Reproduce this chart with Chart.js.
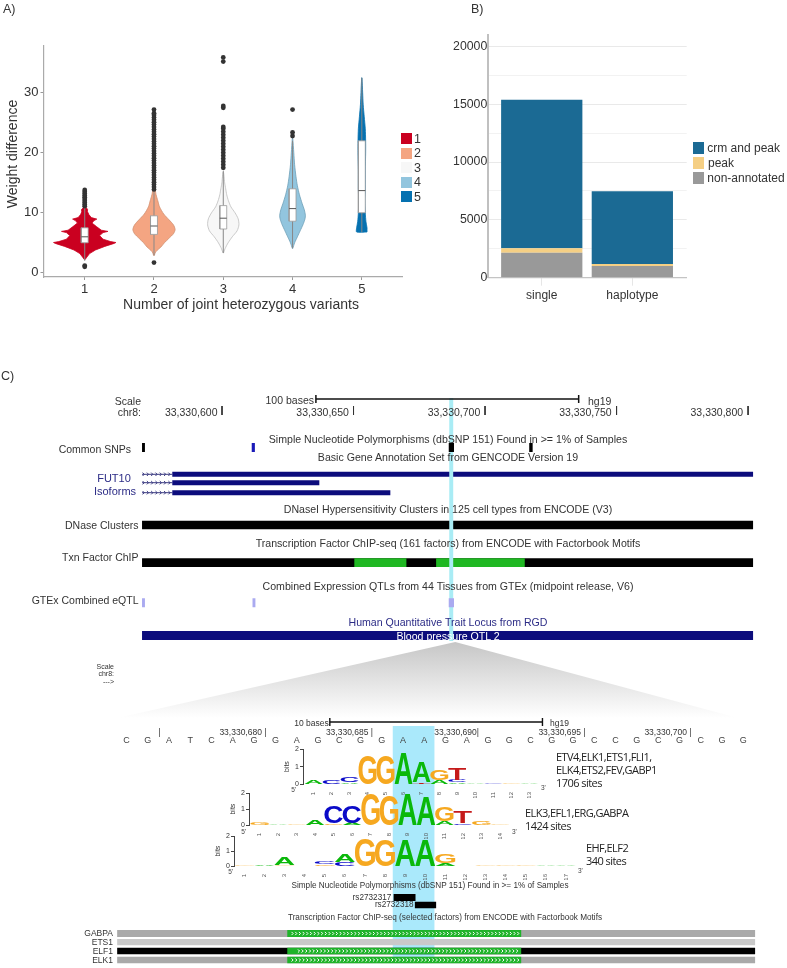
<!DOCTYPE html>
<html>
<head>
<meta charset="utf-8">
<title>Joint heterozygous variants</title>
<script src="https://cdn.jsdelivr.net/npm/chart.js@4"></script>
<style>
body { margin: 0; background: #fff; }
#page { position: relative; width: 787px; height: 968px; overflow: hidden; font-family: "Liberation Sans", sans-serif; }
#page canvas { position: absolute; }
.lbl { position: absolute; white-space: nowrap; line-height: 1; }
.swatch { position: absolute; }
</style>
</head>
<body>
<div id="page"></div>
<script>
// ---- panel A data: violin outlines (value, half width in category units)
const violinCategories = [1, 2, 3, 4, 5];
const violinColors = ['#ca0020', '#f4a582', '#f7f7f7', '#92c5de', '#0571b0'];
const violinEdges = ['#ca0020', '#cf8f70', '#bdbdbd', '#6f9fb8', '#0571b0'];
const violinValues = [
    [2.2, 2.6, 3.2, 3.8, 4.4, 4.9, 5.05, 5.2, 5.6, 6.2, 6.7, 6.9, 7.1, 7.7, 8.3, 8.7, 8.95, 9.2, 9.7, 10.2, 10.6, 11],
    [2.9, 3.5, 4.3, 5, 5.8, 6.5, 7.2, 8, 8.8, 9.8, 11, 12, 13, 13.8],
    [3.3, 4, 5, 6, 7, 8, 9, 10, 11, 12, 13, 14, 15, 16, 16.8],
    [4.05, 5, 6, 7, 8, 9, 9.6, 10.5, 11.5, 13, 14.5, 16, 18, 20, 22.4],
    [6.8, 7.5, 8.5, 10, 12, 14, 17, 20, 22, 24, 26, 28, 30, 32.5]
];
const violinWidths = [
    [.005, .03, .07, .155, .29, .425, .45, .375, .265, .215, .265, .335, .24, .17, .105, .135, .175, .095, .06, .04, .04, .01],
    [.005, .025, .1, .15, .22, .28, .305, .28, .22, .14, .08, .055, .03, .015],
    [.003, .025, .07, .13, .2, .226, .215, .17, .11, .075, .05, .035, .02, .012, .003],
    [.003, .03, .07, .11, .15, .18, .185, .17, .14, .1, .07, .05, .03, .018, .003],
    [.075, .075, .06, .05, .045, .05, .05, .055, .055, .05, .035, .02, .012, .002]
];
const boxQ1 = [5.0, 6.4, 7.3, 8.6, 10];
const boxMedian = [6.0, 7.8, 9.1, 10.7, 13.7];
const boxQ3 = [7.5, 9.5, 11.2, 14, 22];
const whiskerLow = [2.0, 2.9, 3.3, 4.1, 6.8];
const whiskerHigh = [11, 13.8, 17, 22, 32.5];
const outliers = [
    [1.0, 1.2, 11.1, 11.4, 11.7, 12, 12.3, 12.6, 12.9, 13.2, 13.5, 13.8],
    [1.7, 13.9, 14.3, 14.7, 15.1, 15.5, 15.9, 16.3, 16.7, 17.1, 17.5, 17.9, 18.3, 18.7, 19.1, 19.5, 19.9, 20.3, 20.7, 21.1, 21.5, 21.9, 22.3, 22.7, 23.1, 23.5, 23.9, 24.3, 24.7, 25.1, 25.5, 25.9, 26.3, 26.6, 27.2],
    [17.5, 18, 18.5, 19, 19.5, 20, 20.5, 21, 21.5, 22, 22.5, 23, 23.5, 24, 24.3, 27.5, 27.8, 35.2, 35.9],
    [22.8, 23.4, 27.2],
    []
];
const violinYTicks = [0, 10, 20, 30];

// ---- panel B data
const barCategories = ['single', 'haplotype'];
const nonAnnotated = [2160, 1010];
const peakOnly = [376, 170];
const crmAndPeak = [12854, 6284];
const barYTicks = [0, 2500, 5000, 7500, 10000, 12500, 15000, 17500, 20000];

// ---- panel C upper browser view, positions are offsets from 33,330,000
const upperTicks = [600, 650, 700, 750, 800];
const upperTickLabels = ['33,330,600', '33,330,650', '33,330,700', '33,330,750', '33,330,800'];
const snpStarts = [569.6, 611.3, 686.2, 716.8];
const snpEnds = [570.7, 612.5, 688.2, 718.1];
const geneIsoStarts = [581.1, 581.1, 581.1];
const geneIsoEnds = [801.9, 637, 664];
const dnaseSpan = [569.6, 801.9];
const tfSpan = [569.6, 801.9];
const tfMotifStarts = [650.3, 681.4];
const tfMotifEnds = [670.1, 715.1];
const eqtlStarts = [569.6, 611.6, 686.2];
const eqtlEnds = [570.7, 612.7, 688.2];
const qtlSpan = [569.6, 801.9];

// ---- panel C zoomed view
const zoomBases = ['C','G','A','T','C','A','G','G','A','G','C','G','G','A','A','G','A','G','G','C','G','G','C','C','G','C','G','C','G','G'];
const zoomSpan = [673, 703];
const chipFactors = ['GABPA', 'ETS1', 'ELF1', 'ELK1'];
const chipColors = ['#a9a9a9', '#c9c9c9', '#000000', '#a9a9a9'];
const chipMotif = [681, 692];
const rsNames = ['rs2732317', 'rs2732318'];
const rsStarts = [686, 687];
const rsEnds = [687.03, 688];

// ---- sequence logos: position, letter and height in bits, stacked bottom-up
const logo1Pos = [1, 2, 3, 3, 4, 5, 6, 7, 7, 8, 8, 9, 9, 9, 10, 11, 12, 13];
const logo1Chars = ['A','C','A','C','G','G','A','T','A','A','G','A','C','T','A','C','G','A'];
const logo1Bits = [.22, .25, .1, .33, 1.63, 1.65, 1.78, .1, 1.15, .24, .58, .1, .15, .66, .03, .03, .08, .06];
const logo2Pos = [1, 2, 3, 4, 5, 5, 6, 6, 7, 8, 9, 10, 11, 11, 12, 12, 13, 14];
const logo2Chars = ['G','A','G','A','G','C','A','C','G','G','A','A','A','G','C','T','G','G'];
const logo2Bits = [.12, .04, .05, .35, .1, 1.06, .13, 1.1, 1.94, 1.9, 1.92, 1.75, .24, .9, .1, .73, .28, .05];
const logo3Pos = [1, 2, 3, 3, 4, 5, 5, 6, 6, 7, 8, 9, 10, 11, 11, 12, 13, 14, 15, 16, 17];
const logo3Chars = ['G','A','G','A','T','G','C','C','A','G','G','A','A','A','G','C','G','G','G','A','A'];
const logo3Bits = [.05, .1, .08, .5, .02, .1, .15, .25, .55, 1.85, 1.75, 1.7, 1.7, .2, .64, .03, .08, .08, .05, .05, .07];
const logoColors = { A: '#0ab80a', C: '#0a0ac8', G: '#f6a820', T: '#c51a1a' };

Chart.defaults.font.family = '"Liberation Sans", sans-serif';
Chart.defaults.color = '#333';

const page = document.getElementById('page');

function addCanvas(left, top, width, height) {
    const c = document.createElement('canvas');
    c.width = width;
    c.height = height;
    c.style.left = left + 'px';
    c.style.top = top + 'px';
    page.appendChild(c);
    return c;
}

function addLabel(text, x, y, align, size, color, extra) {
    const d = document.createElement('div');
    d.className = 'lbl';
    d.textContent = text;
    d.style.left = x + 'px';
    d.style.top = y + 'px';
    d.style.fontSize = size + 'px';
    d.style.color = color || '#333';
    const tx = align === 'right' ? '-100%' : align === 'center' ? '-50%' : '0';
    d.style.transform = 'translate(' + tx + ',-50%)';
    if (extra) Object.assign(d.style, extra);
    page.appendChild(d);
}

function addSwatch(x, y, w, h, color) {
    const d = document.createElement('div');
    d.className = 'swatch';
    d.style.cssText = 'left:' + x + 'px;top:' + y + 'px;width:' + w + 'px;height:' + h + 'px;background:' + color;
    page.appendChild(d);
}

// closed polygon, filled by the library through its scales
function polygon(points, color, borderColor, borderWidth, tension) {
    return {
        data: points,
        showLine: true,
        fill: 'shape',
        backgroundColor: color,
        borderColor: borderColor || color,
        borderWidth: borderWidth || 0,
        pointRadius: 0,
        tension: tension || 0
    };
}

function rect(x0, x1, y0, y1, color) {
    return polygon([{x: x0, y: y0}, {x: x1, y: y0}, {x: x1, y: y1}, {x: x0, y: y1}, {x: x0, y: y0}], color);
}

function segment(x0, y0, x1, y1, color, width) {
    return {
        data: [{x: x0, y: y0}, {x: x1, y: y1}],
        showLine: true,
        borderColor: color,
        borderWidth: width,
        pointRadius: 0
    };
}

// ---------------- panel A
const violinSets = [];
violinCategories.forEach(function(cat, i) {
    const right = violinValues[i].map((v, j) => ({x: cat + violinWidths[i][j], y: v}));
    const left = violinValues[i].map((v, j) => ({x: cat - violinWidths[i][j], y: v})).reverse();
    const outline = right.concat(left);
    outline.push(outline[0]);
    violinSets.push(polygon(outline, violinColors[i], violinEdges[i], 0.8, i === 0 ? 0 : 0.25));
    violinSets.push(segment(cat, whiskerLow[i], cat, whiskerHigh[i], '#888', 1));
    const hw = 0.05;
    violinSets.push(polygon([{x: cat - hw, y: boxQ1[i]}, {x: cat + hw, y: boxQ1[i]}, {x: cat + hw, y: boxQ3[i]}, {x: cat - hw, y: boxQ3[i]}, {x: cat - hw, y: boxQ1[i]}], '#fff', '#999', 0.8));
    violinSets.push(segment(cat - hw, boxMedian[i], cat + hw, boxMedian[i], '#555', 1));
    violinSets.push({
        data: outliers[i].map(v => ({x: cat, y: v})),
        backgroundColor: '#333',
        borderWidth: 0,
        pointRadius: 2.4
    });
});

// the first dataset is painted last, so every list is handed over reversed
new Chart(addCanvas(0, 0, 430, 320), {
    type: 'scatter',
    data: { datasets: violinSets.reverse() },
    options: {
        responsive: false,
        animation: false,
        layout: { padding: { top: 46, right: 28, left: 0, bottom: 0 } },
        plugins: { legend: { display: false }, tooltip: { enabled: false } },
        scales: {
            x: {
                type: 'linear', min: 0.405, max: 5.58,
                afterBuildTicks: s => { s.ticks = violinCategories.map(v => ({value: v})); },
                afterFit: s => { s.height = 43; },
                grid: { drawOnChartArea: false, tickLength: 3, color: '#999' },
                border: { color: '#aaa', width: 1.2 },
                ticks: { font: { size: 13 }, color: '#333', padding: 2, maxRotation: 0 }
            },
            y: {
                min: -0.7, max: 37.8,
                afterBuildTicks: s => { s.ticks = violinYTicks.map(v => ({value: v})); },
                afterFit: s => { s.width = 43.5; },
                grid: { drawOnChartArea: false, tickLength: 3, color: '#999' },
                border: { color: '#aaa', width: 1.2 },
                ticks: { font: { size: 13 }, color: '#333', padding: 2 }
            }
        }
    }
});

addLabel('Number of joint heterozygous variants', 241, 304, 'center', 14, '#333');
addLabel('Weight difference', 12, 154, 'left', 14, '#333', { transformOrigin: '0 0', transform: 'rotate(-90deg) translate(-50%,-50%)' });

violinCategories.forEach(function(cat, i) {
    const y = 133 + i * 14.6;
    addSwatch(401, y, 11, 11, violinColors[i]);
    addLabel(String(cat), 414, y + 5.5, 'left', 12.5, '#333');
});

// ---------------- panel B
new Chart(addCanvas(430, 0, 357, 320), {
    type: 'bar',
    data: {
        datasets: [
            { label: 'non-annotated', data: nonAnnotated.map((v, i) => ({x: i + 1, y: v})), backgroundColor: '#999999' },
            { label: 'peak', data: peakOnly.map((v, i) => ({x: i + 1, y: v})), backgroundColor: '#f5cf84' },
            { label: 'crm and peak', data: crmAndPeak.map((v, i) => ({x: i + 1, y: v})), backgroundColor: '#1b6a94' }
        ]
    },
    options: {
        responsive: false,
        animation: false,
        barPercentage: 0.897,
        categoryPercentage: 1,
        layout: { padding: { top: 35, right: 100.3, left: 0, bottom: 0 } },
        plugins: { legend: { display: false }, tooltip: { enabled: false } },
        scales: {
            x: {
                type: 'linear', stacked: true, offset: false, min: 0.41, max: 2.6,
                afterBuildTicks: s => { s.ticks = barCategories.map((c, i) => ({value: i + 1})); },
                afterFit: s => { s.height = 42.3; },
                grid: { drawOnChartArea: false, offset: false, tickLength: 8, color: '#e6e6e6' },
                border: { color: '#c4c4c4', width: 1.2 },
                ticks: { font: { size: 12 }, color: '#333', padding: 3, maxRotation: 0, callback: v => barCategories[v - 1] }
            },
            y: {
                stacked: true, min: 0, max: 20977,
                afterBuildTicks: s => { s.ticks = barYTicks.map(v => ({value: v})); },
                afterFit: s => { s.width = 58.3; },
                ticks: { autoSkip: false, font: { size: 12.3 }, color: '#333', padding: 1, callback: v => (v % 5000 === 0 ? String(v) : '') },
                grid: {
                    drawTicks: false,
                    color: c => (c.tick && c.tick.value % 5000 === 0 ? '#e9e9e9' : '#f2f2f2'),
                    lineWidth: 1
                },
                border: { color: '#c0c0c0', width: 2 }
            }
        }
    }
});

addSwatch(693, 142.3, 11.3, 11.3, '#1b6a94');
addSwatch(693, 157.3, 11.3, 11.3, '#f5cf84');
addSwatch(693, 172.3, 11.3, 11.3, '#999999');
addLabel('crm and peak', 707.3, 148, 'left', 12, '#333');
addLabel('peak', 708, 163, 'left', 12, '#333');
addLabel('non-annotated', 707.3, 178, 'left', 12, '#333');

addLabel('A)', 3, 9, 'left', 12.5);
addLabel('B)', 471, 9, 'left', 12.5);
addLabel('C)', 1, 376, 'left', 12.5);

// ---------------- chevrons inside features, drawn along the x scale
function chevronPlugin(runs) {
    return {
        id: 'chevrons',
        afterDatasetsDraw(chart) {
            const ctx = chart.ctx;
            const sx = chart.scales.x;
            const sy = chart.scales.y;
            ctx.save();
            runs.forEach(function(r) {
                const x0 = sx.getPixelForValue(r.from);
                const x1 = sx.getPixelForValue(r.to);
                const y = sy.getPixelForValue(r.y);
                ctx.strokeStyle = r.color;
                ctx.lineWidth = r.lineWidth;
                for (let x = x0; x < x1; x += r.step) {
                    ctx.beginPath();
                    ctx.moveTo(x, y - r.size);
                    ctx.lineTo(x + r.size, y);
                    ctx.lineTo(x, y + r.size);
                    ctx.stroke();
                }
            });
            ctx.restore();
        }
    };
}

// ---------------- panel C zoomed view (drawn first, the funnel sits under the upper view)
const zoomCanvas = addCanvas(0, 640, 787, 328);
const zoomGrad = zoomCanvas.getContext('2d').createLinearGradient(0, 2, 0, 78);
zoomGrad.addColorStop(0, '#c6c6c6');
zoomGrad.addColorStop(1, '#ffffff');

const chipRows = [[930, 937], [939, 945.3], [947.7, 954.3], [956.7, 963.3]];
const zoomSets = [];
zoomSets.push(polygon([{x: 688.9, y: 642}, {x: 702.2, y: 718}, {x: 673, y: 718}, {x: 688.9, y: 642}], zoomGrad));
zoomSets.push(rect(685.96, 687.92, 726, 958, '#aae9fb'));
zoomSets.push(segment(683, 722, 693, 722, '#111', 1.6));
zoomSets.push(segment(683, 718, 683, 726, '#111', 1.4));
zoomSets.push(segment(693, 718, 693, 726, '#111', 1.4));
zoomSets.push(rect(rsStarts[0], rsEnds[0], 894, 901, '#000'));
zoomSets.push(rect(rsStarts[1], rsEnds[1], 901.7, 908.3, '#000'));
chipFactors.forEach(function(f, i) {
    zoomSets.push(rect(zoomSpan[0], zoomSpan[1], chipRows[i][0], chipRows[i][1], chipColors[i]));
    if (f !== 'ETS1') zoomSets.push(rect(chipMotif[0], chipMotif[1], chipRows[i][0], chipRows[i][1], '#1fb32a'));
});

const basesPlugin = {
    id: 'bases',
    afterDatasetsDraw(chart) {
        const ctx = chart.ctx;
        ctx.save();
        ctx.font = '9px "Liberation Sans"';
        ctx.fillStyle = '#444';
        ctx.textAlign = 'center';
        ctx.textBaseline = 'middle';
        zoomBases.forEach(function(b, i) {
            ctx.fillText(b, chart.scales.x.getPixelForValue(673.44 + i), chart.scales.y.getPixelForValue(741));
        });
        ctx.restore();
    }
};

new Chart(zoomCanvas, {
    type: 'scatter',
    data: { datasets: zoomSets.reverse() },
    options: {
        responsive: false,
        animation: false,
        plugins: { legend: { display: false }, tooltip: { enabled: false } },
        scales: {
            x: { type: 'linear', display: false, min: 667.49, max: 704.5 },
            y: { display: false, reverse: true, min: 640, max: 968 }
        }
    },
    plugins: [basesPlugin, chevronPlugin([
        { from: 681.2, to: 691.9, y: 933.5, step: 3.7, size: 1.6, color: '#fff', lineWidth: 1 },
        { from: 681.5, to: 691.9, y: 951, step: 3.7, size: 1.6, color: '#fff', lineWidth: 1 },
        { from: 681.2, to: 691.9, y: 960, step: 3.7, size: 1.6, color: '#fff', lineWidth: 1 }
    ])]
});

// ---------------- panel C upper view
const isoRows = [474.3, 482.7, 492.7];
const upperSets = [];
upperSets.push(rect(dnaseSpan[0], dnaseSpan[1], 520.7, 529.3, '#000'));
upperSets.push(rect(tfSpan[0], tfSpan[1], 558.3, 567, '#000'));
tfMotifStarts.forEach(function(s, i) {
    upperSets.push(rect(s, tfMotifEnds[i], 558.3, 567, '#1fb722'));
});
upperSets.push(rect(qtlSpan[0], qtlSpan[1], 631, 640, '#0c0c7c'));
isoRows.forEach(function(y, i) {
    upperSets.push(segment(569.6, y, geneIsoStarts[i], y, '#3a3a80', 1));
    upperSets.push(rect(geneIsoStarts[i], geneIsoEnds[i], y - 2.5, y + 2.5, '#0c0c7c'));
});
upperSets.push(rect(686.4, 687.9, 398, 641, '#a9ecf5'));
upperSets.push(segment(635.7, 399, 735.6, 399, '#111', 1.6));
upperSets.push(segment(635.7, 395, 635.7, 403, '#111', 1.5));
upperSets.push(segment(735.6, 395, 735.6, 403, '#111', 1.5));
upperTicks.forEach(function(t) {
    upperSets.push(segment(t, 406, t, 415, '#333', 1));
});
snpStarts.forEach(function(s, i) {
    upperSets.push(rect(s, snpEnds[i], 443, 452, i === 1 ? '#1a1ab8' : '#000'));
});
eqtlStarts.forEach(function(s, i) {
    upperSets.push(rect(s, eqtlEnds[i], 598.3, 607.3, '#aaaaf0'));
});

new Chart(addCanvas(0, 385, 787, 265), {
    type: 'scatter',
    data: { datasets: upperSets.reverse() },
    options: {
        responsive: false,
        animation: false,
        plugins: { legend: { display: false }, tooltip: { enabled: false } },
        scales: {
            x: { type: 'linear', display: false, min: 515.6, max: 814.8 },
            y: { display: false, reverse: true, min: 385, max: 650 }
        }
    },
    plugins: [chevronPlugin(isoRows.map(y => ({ from: 569.8, to: 581, y: y, step: 4.3, size: 1.7, color: '#3a3a80', lineWidth: 1 })))]
});

// ---------------- sequence logos, each one a small chart with its own axes
function logoChart(box, nPos, positions, chars, bits) {
    const axisLeft = 20;
    const axisBottom = 14;
    const canvas = addCanvas(box.left - axisLeft, box.top - 4, box.width + axisLeft + 4, box.height + 4 + axisBottom);
    const plugin = {
        id: 'logoLetters',
        afterDatasetsDraw(chart) {
            const ctx = chart.ctx;
            const sx = chart.scales.x;
            const sy = chart.scales.y;
            const stacked = {};
            ctx.save();
            ctx.textAlign = 'left';
            ctx.textBaseline = 'alphabetic';
            ctx.font = 'bold 100px "Liberation Sans"';
            positions.forEach(function(p, i) {
                const base = stacked[p] || 0;
                stacked[p] = base + bits[i];
                const x0 = sx.getPixelForValue(p - 0.5);
                const x1 = sx.getPixelForValue(p + 0.5);
                const y0 = sy.getPixelForValue(base);
                const y1 = sy.getPixelForValue(base + bits[i]);
                const m = ctx.measureText(chars[i]);
                const gw = m.actualBoundingBoxLeft + m.actualBoundingBoxRight;
                const gh = m.actualBoundingBoxAscent + m.actualBoundingBoxDescent;
                ctx.save();
                ctx.translate(x0, y0);
                ctx.scale((x1 - x0) / gw, (y0 - y1) / gh);
                ctx.globalAlpha = bits[i] < 0.09 ? 0.45 : 1;
                ctx.fillStyle = logoColors[chars[i]];
                ctx.fillText(chars[i], m.actualBoundingBoxLeft, -m.actualBoundingBoxDescent);
                ctx.restore();
            });
            ctx.restore();
        }
    };
    const xTicks = [];
    for (let p = 1; p <= nPos; p++) xTicks.push({value: p});
    return new Chart(canvas, {
        type: 'scatter',
        data: { datasets: [] },
        options: {
            responsive: false,
            animation: false,
            layout: { padding: { top: 4, right: 4, left: 0, bottom: 0 } },
            plugins: { legend: { display: false }, tooltip: { enabled: false } },
            scales: {
                x: {
                    type: 'linear', min: box.xMin, max: box.xMax,
                    afterBuildTicks: s => { s.ticks = xTicks; },
                    afterFit: s => { s.height = axisBottom; },
                    grid: { display: false },
                    border: { display: false },
                    ticks: { font: { size: 6 }, color: '#555', padding: 0, minRotation: 90, maxRotation: 90, autoSkip: false }
                },
                y: {
                    min: 0, max: 2,
                    afterFit: s => { s.width = axisLeft; },
                    grid: { drawOnChartArea: false, tickLength: 3, color: '#444' },
                    border: { color: '#444', width: 1 },
                    ticks: { stepSize: 1, font: { size: 7 }, color: '#333', padding: 1 },
                    title: { display: true, text: 'bits', font: { size: 7 }, color: '#333', padding: 0 }
                }
            }
        },
        plugins: [plugin]
    });
}

logoChart({ left: 302.7, top: 747.7, width: 237, height: 36.6, xMin: 0.41, xMax: 13.6 }, 13, logo1Pos, logo1Chars, logo1Bits);
logoChart({ left: 249, top: 792.3, width: 262, height: 33.7, xMin: 0.43, xMax: 14.6 }, 14, logo2Pos, logo2Chars, logo2Bits);
logoChart({ left: 234, top: 834.7, width: 344, height: 31.3, xMin: 0.49, xMax: 17.6 }, 17, logo3Pos, logo3Chars, logo3Bits);

addLabel("5'", 296, 790, 'right', 6.5, '#444');
addLabel("3'", 541, 788, 'left', 6.5, '#444');
addLabel("5'", 246, 832, 'right', 6.5, '#444');
addLabel("3'", 512, 832, 'left', 6.5, '#444');
addLabel("5'", 233, 872, 'right', 6.5, '#444');
addLabel("3'", 578, 871, 'left', 6.5, '#444');

// ---------------- browser text
const grey = '#333';
const navy = '#2c2c86';
addLabel('Scale', 141, 401, 'right', 10.5, grey);
addLabel('chr8:', 141, 412, 'right', 10.5, grey);
addLabel('100 bases', 314, 400, 'right', 10.5, grey);
addLabel('hg19', 588, 401, 'left', 10.5, grey);
upperTickLabels.forEach(function(t, i) {
    addLabel(t, 217.5 + i * 131.4, 412, 'right', 10.5, grey);
});
addLabel('Simple Nucleotide Polymorphisms (dbSNP 151) Found in >= 1% of Samples', 448, 438.5, 'center', 10.6, grey);
addLabel('Common SNPs', 131, 448.5, 'right', 10.5, grey);
addLabel('Basic Gene Annotation Set from GENCODE Version 19', 448, 457, 'center', 10.6, grey);
addLabel('FUT10', 114, 478, 'center', 11, navy);
addLabel('Isoforms', 115, 491, 'center', 11, navy);
addLabel('DNaseI Hypersensitivity Clusters in 125 cell types from ENCODE (V3)', 448, 509, 'center', 10.6, grey);
addLabel('DNase Clusters', 138.5, 525, 'right', 10.5, grey);
addLabel('Transcription Factor ChIP-seq (161 factors) from ENCODE with Factorbook Motifs', 448, 543, 'center', 10.6, grey);
addLabel('Txn Factor ChIP', 138.5, 557, 'right', 10.5, grey);
addLabel('Combined Expression QTLs from 44 Tissues from GTEx (midpoint release, V6)', 448, 585.5, 'center', 10.6, grey);
addLabel('GTEx Combined eQTL', 138.5, 600, 'right', 10.5, grey);
addLabel('Human Quantitative Trait Locus from RGD', 448, 622, 'center', 10.6, navy);
addLabel('Blood pressure QTL 2', 448, 636, 'center', 10.6, '#fff');

addLabel('Scale', 114, 665.5, 'right', 7, grey);
addLabel('chr8:', 114, 672.5, 'right', 7, grey);
addLabel('--->', 114, 681, 'right', 7, grey);
addLabel('10 bases', 328.7, 722.7, 'right', 8.5, grey);
addLabel('hg19', 550, 723, 'left', 8.5, grey);
addLabel('|', 159.3, 732, 'center', 8.5, grey);
addLabel('33,330,680 |', 266.5, 732, 'right', 8.5, grey);
addLabel('33,330,685 |', 373, 732, 'right', 8.5, grey);
addLabel('33,330,690|', 479, 732, 'right', 8.5, grey);
addLabel('33,330,695 |', 585.5, 732, 'right', 8.5, grey);
addLabel('33,330,700 |', 691.5, 732, 'right', 8.5, grey);

const siteFont = { fontFamily: '"Open Sans"', letterSpacing: '-0.55px' };
addLabel('ETV4,ELK1,ETS1,FLI1,', 556, 755.5, 'left', 11, '#222', siteFont);
addLabel('ELK4,ETS2,FEV,GABP1', 556, 768.5, 'left', 11, '#222', siteFont);
addLabel('1706 sites', 556, 781.5, 'left', 11, '#222', siteFont);
addLabel('ELK3,EFL1,ERG,GABPA', 525, 811.5, 'left', 11, '#222', siteFont);
addLabel('1424 sites', 525, 824.5, 'left', 11, '#222', siteFont);
addLabel('EHF,ELF2', 586, 847, 'left', 11, '#222', siteFont);
addLabel('340 sites', 586, 860, 'left', 11, '#222', siteFont);

addLabel('Simple Nucleotide Polymorphisms (dbSNP 151) Found in >= 1% of Samples', 430, 885.5, 'center', 8.2, grey);
addLabel(rsNames[0], 391.3, 897.5, 'right', 8.2, grey);
addLabel(rsNames[1], 413.6, 905, 'right', 8.2, grey);
addLabel('Transcription Factor ChIP-seq (selected factors) from ENCODE with Factorbook Motifs', 445, 918, 'center', 8.2, grey);
[933, 942, 951, 960].forEach(function(y, i) {
    addLabel(chipFactors[i], 113, y, 'right', 8.5, grey);
});
</script>
</body>
</html>
